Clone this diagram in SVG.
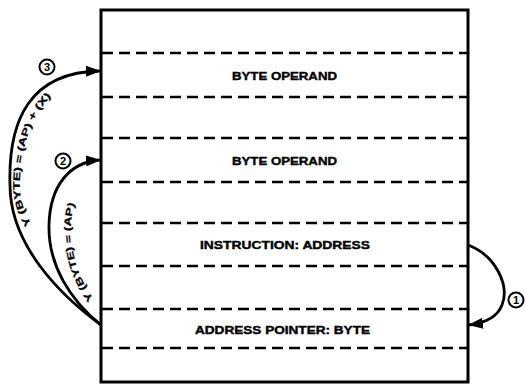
<svg xmlns="http://www.w3.org/2000/svg" width="526" height="384" viewBox="0 0 526 384">
<style>
.box{fill:#fff;stroke:#000;stroke-width:3}
.dash{stroke:#000;stroke-width:2.6;stroke-dasharray:11 6;fill:none}
.lbl{font-family:"Liberation Sans",Arial,sans-serif;font-weight:bold;font-size:11.5px;fill:#000;stroke:#000;stroke-width:0.4}
.cur{fill:none;stroke:#000;stroke-width:2.8}
.ctext{font-family:"Liberation Sans",Arial,sans-serif;font-weight:bold;font-size:9.5px;fill:#000;stroke:#000;stroke-width:0.3}
.num{fill:#fff;stroke:#000;stroke-width:2}
.numt{font-family:"Liberation Sans",Arial,sans-serif;font-weight:bold;font-size:11px;fill:#000;text-anchor:middle}
</style>
<defs>
<marker id="ah" viewBox="0 0 15 11" refX="14" refY="5.5" markerWidth="15" markerHeight="11" markerUnits="userSpaceOnUse" orient="auto">
<path d="M0,0 L15,5.5 L0,11 Z" fill="#000"/>
</marker>
<path id="tp3" d="M50,253 C30,225 18,205 20,180 C22,140 35,105 62,88"/>
<path id="tp2" d="M96,302 C80,282 70,255 71,225 C72,205 78,193 90,184"/>
</defs>
<g id="memory">
<rect class="box" x="101" y="10" width="367" height="372"/>
<g id="dividers">
<line class="dash" x1="102" y1="53" x2="467" y2="53"/>
<line class="dash" x1="102" y1="97" x2="467" y2="97"/>
<line class="dash" x1="102" y1="138" x2="467" y2="138"/>
<line class="dash" x1="102" y1="182" x2="467" y2="182"/>
<line class="dash" x1="102" y1="223" x2="467" y2="223"/>
<line class="dash" x1="102" y1="266" x2="467" y2="266"/>
<line class="dash" x1="102" y1="309" x2="467" y2="309"/>
<line class="dash" x1="102" y1="348" x2="467" y2="348"/>
</g>
</g>
<g id="byte-operand-1"><text class="lbl" x="232" y="80" textLength="105" lengthAdjust="spacingAndGlyphs">BYTE OPERAND</text></g>
<g id="byte-operand-2"><text class="lbl" x="232" y="165" textLength="105" lengthAdjust="spacingAndGlyphs">BYTE OPERAND</text></g>
<g id="instruction"><text class="lbl" x="200" y="249" textLength="170" lengthAdjust="spacingAndGlyphs">INSTRUCTION:  ADDRESS</text></g>
<g id="address-pointer"><text class="lbl" x="195" y="334" textLength="175" lengthAdjust="spacingAndGlyphs">ADDRESS POINTER:  BYTE</text></g>
<g id="connectors">
<path class="cur" d="M101,325 C60,295 10,245 10,185 C8,120 30,72 100,71" marker-end="url(#ah)"/>
<path class="cur" d="M101,325 C70,300 48,265 49,225 C50,185 70,162 100,160" marker-end="url(#ah)"/>
<path class="cur" d="M468,245 C495,255 510,285 502,305 C497,318 485,323 469,325" marker-end="url(#ah)"/>
<text class="ctext"><textPath href="#tp3" startOffset="34" textLength="138" lengthAdjust="spacingAndGlyphs">Y (BYTE) = (AP) + (X)</textPath></text>
<text class="ctext"><textPath href="#tp2" startOffset="4" textLength="100" lengthAdjust="spacingAndGlyphs">Y (BYTE) = (AP)</textPath></text>
</g>
<g id="step-3"><circle class="num" cx="47" cy="67" r="7.5"/><text class="numt" x="47" y="71">3</text></g>
<g id="step-2"><circle class="num" cx="63" cy="161" r="7.5"/><text class="numt" x="63" y="165">2</text></g>
<g id="step-1"><circle class="num" cx="516" cy="300" r="7.5"/><text class="numt" x="516" y="304">1</text></g>
</svg>
